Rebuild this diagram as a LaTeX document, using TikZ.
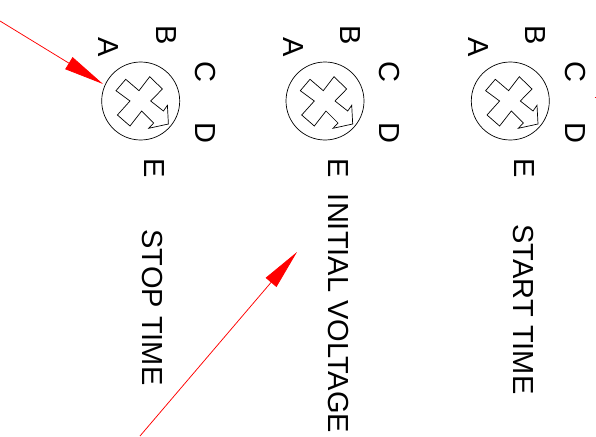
\documentclass[tikz,border=0pt]{standalone}
\usepackage{fontspec}
\setmainfont{Liberation Sans}
\usetikzlibrary{arrows.meta}
\begin{document}
\begin{tikzpicture}[x=1pt,y=-1pt,
  dial/.style={circle,draw=black,line width=0.7pt,minimum size=78pt,inner sep=0pt},
  lab/.style={rotate=-90,font=\fontsize{29}{29}\selectfont,text height=20.8pt,text depth=0pt,inner sep=0pt,text=black},
  pointer/.style={draw=black,line width=0.7pt,fill=white,line join=miter},
  redarrow/.style={draw=red,line width=0.75pt,-{Triangle[length=40pt,width=14pt,fill=red]}}]
\useasboundingbox (0,0) rectangle (596,436);
\foreach \n/\cx in {stop/140.7,init/325,start/510.3}{
  \begin{scope}[shift={(\cx,101)}]
    \node[dial] (dial\n) at (0,0) {};
    \draw[pointer] (-15,-21.7) -- (-1.7,-10.3) -- (9,-24.3) -- (21.7,-12) -- (10,0) -- (22.7,10)
      -- (26.7,4.3) -- (27.7,23) -- (8,27.3) -- (13,22) -- (1,10) -- (-10.7,25) -- (-23.3,14)
      -- (-10.7,0) -- (-24.7,-10.3) -- cycle;
    \node[lab] (a\n) at (-31.5,-54.3) {A};
    \node[lab] (b\n) at (25.8,-66) {B};
    \node[lab] (c\n) at (65.1,-29.3) {C};
    \node[lab] (d\n) at (65.1,31.7) {D};
    \node[lab] (e\n) at (14.1,67) {E};
  \end{scope}
}
\node[lab] (stoptime) at (153,307.5) {STOP TIME};
\node[lab] (initvolt) at (339.3,313.5) {INITIAL VOLTAGE};
\node[lab] (starttime) at (524.3,309.5) {START TIME};
\coordinate (s1) at (0,21);
\coordinate (t1) at (103,84);
\coordinate (s2) at (140,436);
\coordinate (t2) at (297,252);
\draw[redarrow] (s1) -- (t1);
\draw[redarrow] (s2) -- (t2);
\coordinate (m1) at (594.5,97.5);
\coordinate (m2) at (596,97.5);
\draw[red,line width=0.5pt] (m1) -- (m2);
\end{tikzpicture}
\end{document}
